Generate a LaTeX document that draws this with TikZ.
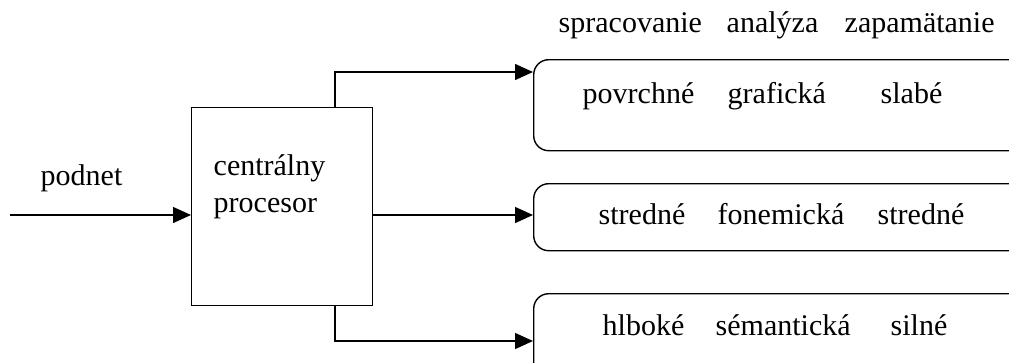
\documentclass[tikz,border=0pt]{standalone}
\usepackage{fontspec}
\setmainfont{Liberation Serif}
\usetikzlibrary{arrows.meta}
\begin{document}
\begin{tikzpicture}[x=1pt,y=-1pt,line width=1.4pt,
  txt/.style={anchor=base west,inner sep=0pt,font=\fontsize{30}{34.5}\selectfont},
  proc/.style={draw,rectangle,minimum width=181pt,minimum height=198pt,inner sep=0pt,anchor=north west},
  level/.style={draw,rectangle,rounded corners=15pt,minimum width=497pt,inner sep=0pt,anchor=north west},
  arr/.style={-{Triangle[length=18pt,width=16pt]}}]
\useasboundingbox (0,0) rectangle (1009,362);
\clip (0,0) rectangle (1009,362);
% header
\node[txt] (h1) at (558,32) {spracovanie};
\node[txt] (h2) at (726,32) {analýza};
\node[txt] (h3) at (844,32) {zapamätanie};
% central processor
\node[proc] (cp) at (191,107) {};
\node[txt] (cpt1) at (213,175) {centrálny};
\node[txt] (cpt2) at (213,212) {procesor};
% input
\coordinate (in) at (10,215);
\node[txt] (pod) at (40,185) {podnet};
\draw[arr] (in) -- (in -| cp.west);
% level boxes
\node[level,minimum height=91pt] (b1) at (533,59) {};
\node[level,minimum height=67pt] (b2) at (533,183) {};
\node[level,minimum height=90pt] (b3) at (533,293) {};
% texts
\node[txt] (t11) at (582,103) {povrchné};
\node[txt] (t12) at (727,103) {grafická};
\node[txt] (t13) at (880,103) {slabé};
\node[txt] (t21) at (598,224) {stredné};
\node[txt] (t22) at (717,224) {fonemická};
\node[txt] (t23) at (877,224) {stredné};
\node[txt] (t31) at (602,335) {hlboké};
\node[txt] (t32) at (715,335) {sémantická};
\node[txt] (t33) at (890,335) {silné};
% connectors
\coordinate (up) at (335,72);
\coordinate (dn) at (335,341);
\draw[arr] (cp.north -| up) -- (up) -- (up -| b1.west);
\draw[arr] (cp.east |- in) -- (in -| b2.west);
\draw[arr] (cp.south -| dn) -- (dn) -- (dn -| b3.west);
\end{tikzpicture}
\end{document}
